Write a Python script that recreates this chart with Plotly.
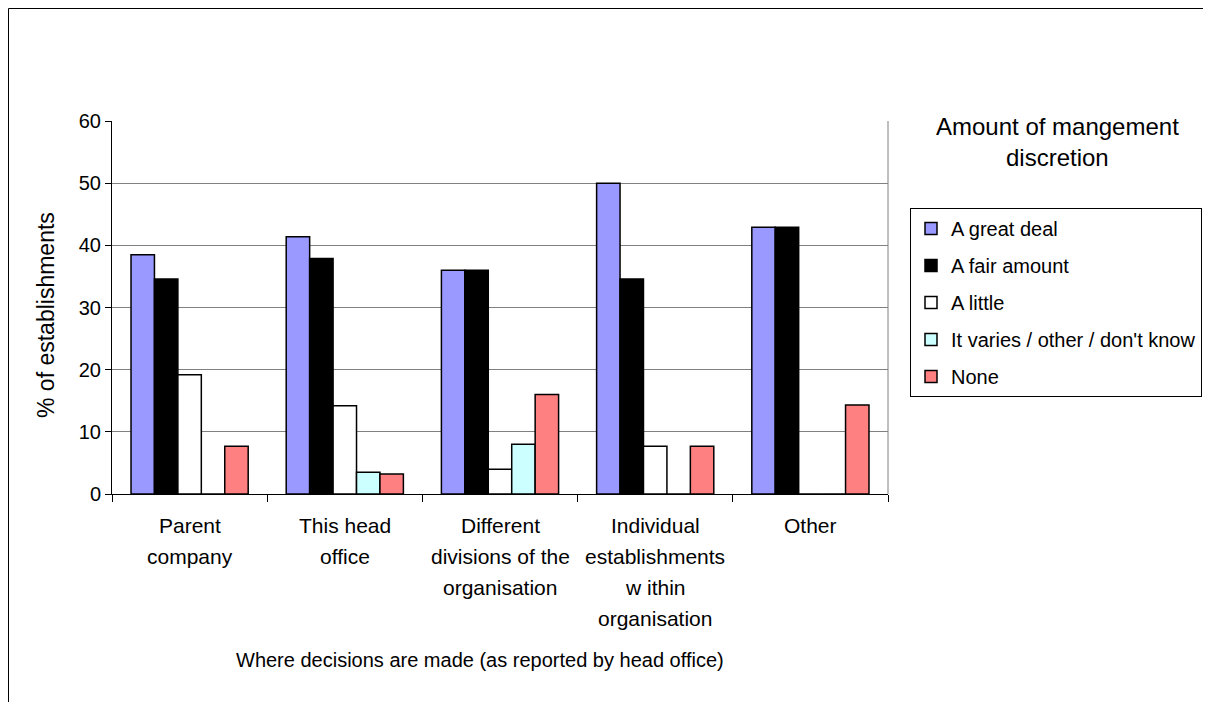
import plotly.graph_objects as go

# data
CATEGORIES = ["Parent company", "This head office", "Different divisions of the organisation",
              "Individual establishments within organisation", "Other"]
CAT_LINES = [
    ["Parent", "company"],
    ["This head", "office"],
    ["Different", "divisions of the", "organisation"],
    ["Individual", "establishments", "w ithin", "organisation"],
    ["Other"],
]
SERIES = ["A great deal", "A fair amount", "A little", "It varies / other / don't know", "None"]
GREAT_DEAL = [38.5, 41.4, 36.0, 50.0, 42.9]
FAIR_AMOUNT = [34.6, 37.9, 36.0, 34.6, 42.9]
A_LITTLE = [19.2, 14.2, 4.0, 7.7, 0.0]
VARIES = [0.0, 3.5, 8.0, 0.0, 0.0]
NONE_ = [7.7, 3.2, 16.0, 7.7, 14.3]
Y_TICKS = [0, 10, 20, 30, 40, 50, 60]

COLORS = ["#9999FF", "#000000", "#FFFFFF", "#CCFFFF", "#FF8080"]
FONT = "Liberation Sans, Arial, sans-serif"
GRID = "#808080"

# page geometry (the page body adds an 8px margin)
PAGE_W, PAGE_H, BODY = 1211, 702, 8
L, R_EDGE, T, B_EDGE = 112, 888, 121, 494      # plot area in page pixels
PW, PH = R_EDGE - L, B_EDGE - T
W, H = PAGE_W - BODY, PAGE_H - BODY


def px_x(px):
    return (px - L) / PW


def px_y(py):
    return 1 - (py - T) / PH


fig = go.Figure()
for name, vals, col in zip(SERIES, [GREAT_DEAL, FAIR_AMOUNT, A_LITTLE, VARIES, NONE_], COLORS):
    fig.add_trace(go.Bar(
        x=CATEGORIES, y=vals, name=name, legendgroup=name,
        marker=dict(color=col, line=dict(color="#000000", width=1.5)),
    ))

# category labels, one line at a time (wide line spacing as in the original)
for cat, lines in zip(CATEGORIES, CAT_LINES):
    for i, txt in enumerate(lines):
        fig.add_annotation(
            x=cat, xref="x", y=0, yref="paper", yanchor="middle",
            yshift=-(31 + 31 * i), text=txt, showarrow=False,
            font=dict(family=FONT, size=21, color="#000000"),
        )

# legend title above the legend box
for i, txt in enumerate(["Amount of mangement", "discretion"]):
    fig.add_annotation(
        x=px_x(1057), xref="paper", xanchor="center",
        y=px_y(126 + 31 * i), yref="paper", yanchor="middle",
        text=txt, showarrow=False,
        font=dict(family=FONT, size=24, color="#000000"),
    )

fig.add_annotation(
    x=px_x(480), xref="paper", xanchor="center",
    y=px_y(660), yref="paper", yanchor="middle",
    text="Where decisions are made (as reported by head office)",
    showarrow=False, font=dict(family=FONT, size=20, color="#000000"),
)

fig.add_annotation(
    x=px_x(46), xref="paper", xanchor="center",
    y=px_y(315), yref="paper", yanchor="middle",
    text="% of establishments", textangle=-90,
    showarrow=False, font=dict(family=FONT, size=23, color="#000000"),
)

# outer chart frame (top/left visible) and plot right edge
fig.add_shape(type="rect", xref="paper", yref="paper",
              x0=px_x(BODY + 0.5), x1=px_x(PAGE_W + 20),
              y0=px_y(PAGE_H + 20), y1=px_y(BODY + 0.5),
              line=dict(color="#000000", width=1), layer="below")
fig.add_shape(type="line", xref="paper", yref="paper", x0=1, x1=1, y0=0, y1=1,
              line=dict(color=GRID, width=1))

fig.update_layout(
    width=W, height=H,
    margin=dict(l=L - BODY, r=W - (R_EDGE - BODY), t=T - BODY, b=H - (B_EDGE - BODY),
                autoexpand=False),
    paper_bgcolor="#FFFFFF", plot_bgcolor="#FFFFFF",
    font=dict(family=FONT, size=20, color="#000000"),
    barmode="group", bargap=0.245, bargroupgap=0,
    showlegend=True,
    legend=dict(
        x=px_x(910), xanchor="left", y=px_y(208), yanchor="top",
        bordercolor="#000000", borderwidth=1, bgcolor="#FFFFFF",
        font=dict(family=FONT, size=20, color="#000000"),
        traceorder="grouped", tracegroupgap=8,
        itemwidth=30,
    ),
    xaxis=dict(
        showticklabels=False, tickson="boundaries", ticks="outside",
        ticklen=7, tickcolor="#000000", showline=True, linecolor="#000000",
        linewidth=1, showgrid=False, zeroline=False,
    ),
    yaxis=dict(
        range=[0, 60], tickvals=Y_TICKS, ticks="outside", ticklen=6,
        tickcolor="#000000", showline=True, linecolor="#000000", linewidth=1,
        showgrid=True, gridcolor=GRID, gridwidth=1, zeroline=False,
        tickfont=dict(family=FONT, size=20),
    ),
)

fig.write_html("out.html")
